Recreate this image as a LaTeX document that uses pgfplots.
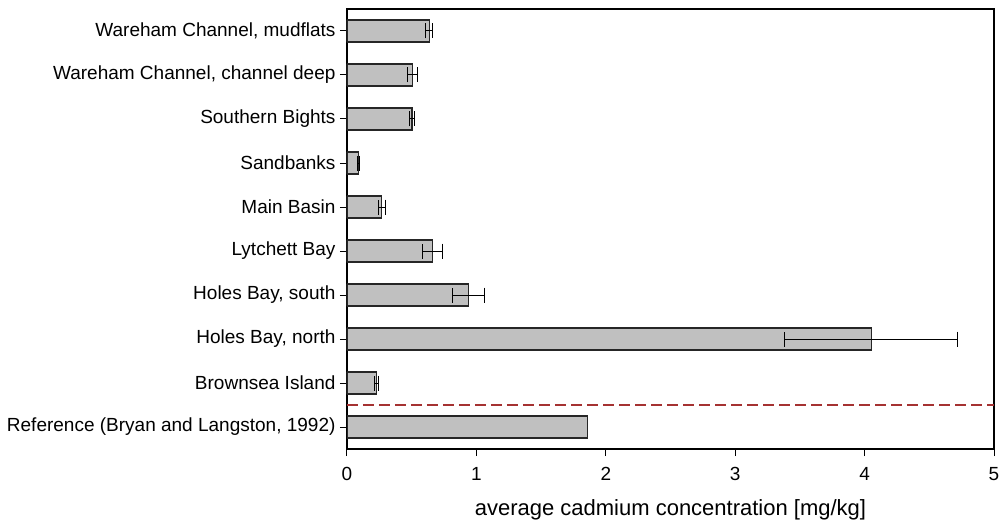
\documentclass[border=0pt]{standalone}
\usepackage{fontspec}
\setmainfont{Liberation Sans}
\usepackage{pgfplots}
\pgfplotsset{compat=1.18}
\usepackage{pgfplotstable}
\definecolor{barfill}{RGB}{192,192,192}
\definecolor{dashred}{RGB}{165,50,50}
\pgfplotstableread{
y x err
0 0.635 0.025
1 0.507 0.040
2 0.502 0.020
3 0.088 0.006
4 0.270 0.025
5 0.660 0.078
6 0.938 0.122
7 4.050 0.670
8 0.229 0.015
}\datatable
\pgfplotstableread{
y x
9 1.862
}\reftable
\begin{document}
\begin{tikzpicture}
\begin{axis}[
  name=ax,
  scale only axis,
  width=647pt, height=440pt,
  xmin=0, xmax=5,
  ymin=-0.5, ymax=9.5,
  y dir=reverse,
  xtick={0,1,2,3,4,5},
  ytick={0,...,9},
  yticklabels={{Wareham Channel, mudflats},{Wareham Channel, channel deep},{Southern Bights},{Sandbanks},{Main Basin},{Lytchett Bay},{Holes Bay, south},{Holes Bay, north},{Brownsea Island},{Reference (Bryan and Langston, 1992)}},
  xtick pos=bottom, ytick pos=left,
  tick align=outside,
  major tick length=7pt,
  tick style={black, line width=1pt},
  axis line style={black, line width=1.3pt},
  /pgf/number format/assume math mode=true,
  ticklabel style={font=\fontsize{19}{22}\selectfont},
  yticklabel style={xshift=-1pt},
  xticklabel style={yshift=-8pt},
  xlabel={average cadmium concentration [mg/kg]},
  xlabel style={font=\fontsize{22}{26}\selectfont, yshift=-12pt},
]
\addplot[xbar, bar width=22pt, fill=barfill, draw=black!85, line width=1.1pt,
  error bars/.cd, x dir=both, x explicit,
  error mark options={rotate=90, black, line width=1pt, mark size=7.5pt},
  error bar style={black, line width=1pt}]
  table[x=x, y=y, x error=err] {\datatable};
\addplot[xbar, bar width=22pt, fill=barfill, draw=black!85, line width=1.1pt]
  table[x=x, y=y] {\reftable};
\addplot[dashred, line width=1.2pt, dash pattern=on 11pt off 5pt, no marks, forget plot] coordinates {(0,8.5) (5,8.5)};
\end{axis}
\path (ax.south west) ++(-347pt,-78pt) rectangle ++(1006pt,527pt);
\end{tikzpicture}
\end{document}
